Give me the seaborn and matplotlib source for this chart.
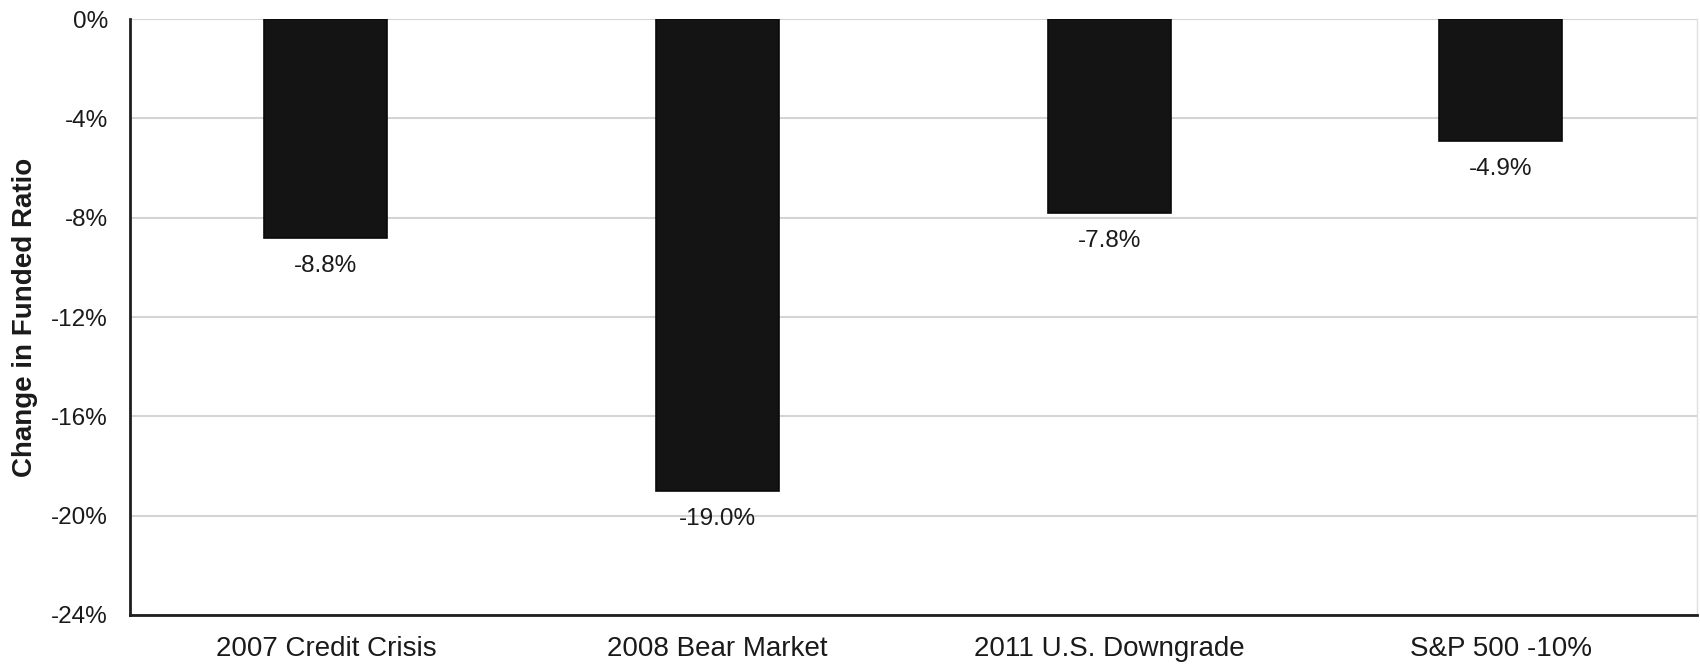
import matplotlib
matplotlib.use("Agg")
import matplotlib.pyplot as plt
import matplotlib.ticker as mticker
import seaborn as sns
import pandas as pd

# Change in funded ratio under each stress scenario (percentage points)
scenarios = ["2007 Credit Crisis", "2008 Bear Market", "2011 U.S. Downgrade", "S&P 500 -10%"]
changes = [-8.8, -19.0, -7.8, -4.9]
value_labels = ["-8.8%", "-19.0%", "-7.8%", "-4.9%"]
y_ticks = [0, -4, -8, -12, -16, -20, -24]

df = pd.DataFrame({"scenario": scenarios, "change": changes})

sns.set_theme(style="white")
plt.rcParams["font.family"] = ["Liberation Sans", "DejaVu Sans"]

fig = plt.figure(figsize=(17, 6.65), dpi=100)
ax = fig.add_axes([0.0765, 0.0752, 0.9215, 0.8962])

sns.barplot(data=df, x="scenario", y="change", color="#141414",
            edgecolor="#0a0a0a", linewidth=1.2, width=0.314,
            saturation=1, ax=ax, zorder=3)

ax.set_ylim(-24, 0)
ax.set_xlim(-0.5, len(scenarios) - 0.5)
ax.set_yticks(y_ticks)
ax.yaxis.set_major_formatter(mticker.FuncFormatter(lambda v, _: f"{v:.0f}%"))
ax.yaxis.grid(True, color="#d4d4d4", linewidth=1.5, zorder=0)
ax.xaxis.grid(False)

for i, (val, txt) in enumerate(zip(changes, value_labels)):
    ax.annotate(txt, xy=(i, val), xytext=(0, -28), textcoords="offset pixels",
                ha="center", va="center", fontsize=17.5, color="#1a1a1a")

ax.tick_params(axis="y", length=0, pad=16, labelsize=17.5, labelcolor="#1a1a1a")
ax.tick_params(axis="x", length=0, pad=15, labelsize=20, labelcolor="#1a1a1a")

ax.set_xlabel("")
ax.set_ylabel("Change in Funded Ratio", fontsize=20, fontweight="bold",
              color="#1a1a1a", labelpad=9)

for side in ("left", "bottom"):
    ax.spines[side].set_color("#1e1e1e")
    ax.spines[side].set_linewidth(2)
ax.spines["top"].set_visible(False)
ax.spines["right"].set_color("#e0e0e0")
ax.spines["right"].set_linewidth(1)

fig.savefig("out.png", dpi=100, facecolor="white")
